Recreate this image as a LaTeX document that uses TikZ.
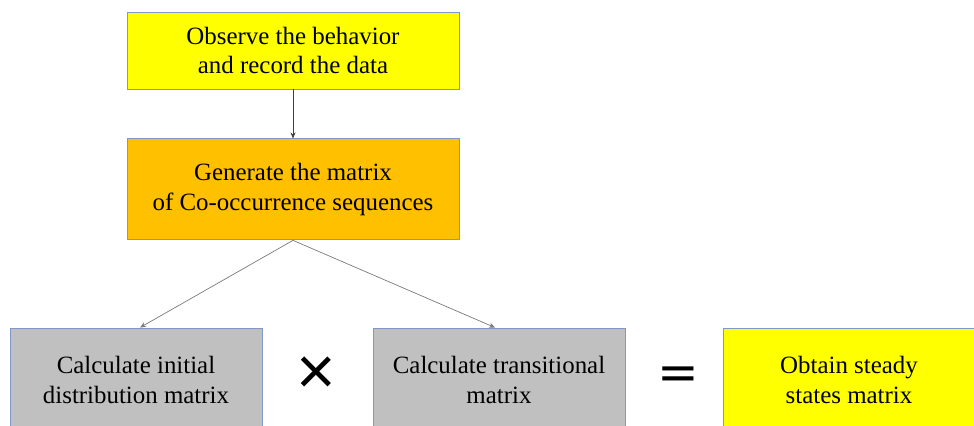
\documentclass[tikz,border=0pt]{standalone}
\usepackage{fontspec}
\setmainfont{Liberation Serif}
\newfontfamily\boxfont{Liberation Serif}
\newfontfamily\signfont{DejaVu Sans}
\newfontfamily\crossfont{Liberation Sans}
\usetikzlibrary{arrows.meta,positioning}
\definecolor{Lemon}{HTML}{FFFF00}
\definecolor{Amber}{HTML}{FFC000}
\definecolor{Silver}{HTML}{C0C0C0}
\definecolor{Edge}{HTML}{8098C8}
\definecolor{Wire}{HTML}{7A7A7A}
\tikzset{
  stage/.style={
    draw=Edge, line width=0.9bp, align=center, inner sep=0pt,
    minimum width=332bp, font=\boxfont\fontsize{25}{30}\selectfont
  },
  calc/.style={
    stage, fill=Silver, minimum width=252bp, minimum height=104bp
  },
  link/.style={-{Stealth[length=6bp,width=5bp]}, line width=0.7bp, draw=Wire},
  sign/.style={inner sep=0pt, font=\signfont\fontsize{50}{50}\selectfont}
}
\begin{document}
\begin{tikzpicture}[x=1bp,y=-1bp]
  \useasboundingbox (0,0) rectangle (974,425);
  \clip (0,0) rectangle (974,425);
  \fill[white] (0,0) rectangle (974,425);
  % flow down
  \node[stage, fill=Lemon, minimum height=77bp] (observe) at (293,50.5)
    {Observe the behavior\\and record the data};
  \node[stage, fill=Amber, minimum height=101bp, below=49bp of observe] (cooc)
    {Generate the matrix\\of Co-occurrence sequences};
  % bottom row
  \node[calc] (initial) at (136,380) {Calculate initial\\distribution matrix};
  \node[calc] (trans) at (499,380) {Calculate transitional\\matrix};
  \node[calc, fill=Lemon] (steady) at (849,380) {Obtain steady\\states matrix};
  \node[sign, font=\crossfont\fontsize{68}{68}\selectfont] (times) at (316,376) {×};
  \node[sign] (equals) at (678,378) {=};
  \draw[link, draw=black!75] (observe) -- (cooc);
  \draw[link] (cooc.south) -- ([xshift=4bp]initial.north);
  \draw[link] (cooc.south) -- ([xshift=-4bp]trans.north);
\end{tikzpicture}
\end{document}
